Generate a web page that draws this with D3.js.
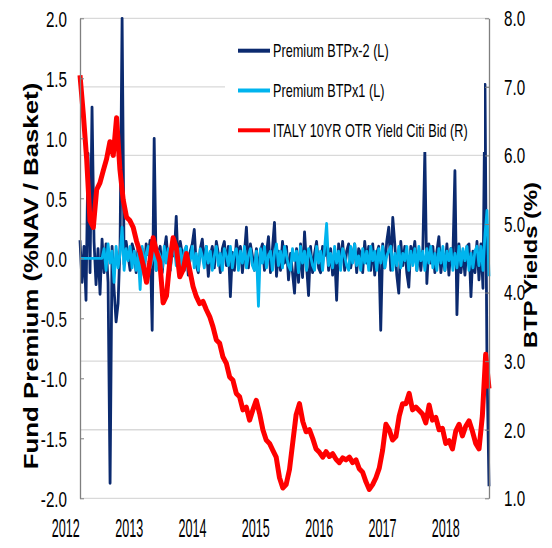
<!DOCTYPE html>
<html><head><meta charset="utf-8">
<script src="https://cdn.jsdelivr.net/npm/d3@7"></script>
<style>body{margin:0;background:#fff}svg{display:block}</style>
</head><body>
<svg id="chart" width="552" height="548"></svg>
<script>
// ---------- data ----------
const yearTicks = [2012, 2013, 2014, 2015, 2016, 2017, 2018];
const leftTicks = [-2.0, -1.5, -1.0, -0.5, 0.0, 0.5, 1.0, 1.5, 2.0];
const rightTicks = [1.0, 2.0, 3.0, 4.0, 5.0, 6.0, 7.0, 8.0];
const seriesNames = ["Premium BTPx-2 (L)", "Premium BTPx1 (L)", "ITALY 10YR OTR Yield Citi Bid (R)"];
const timeSpan = [2012.232, 2018.69];   // first / last observation (decimal years)

// Premium BTPx-2 (%NAV / Basket), evenly spaced observations
const premiumBTPx2 = [
 0.15,-0.2,0.1,-0.35,0.875,-0.12,1.26,0.14,-0.22,0.08,
 -0.3,0.16,-0.12,0.12,-0.2,-1.875,0.1,-0.26,-0.53,-0.375,
 0.12,2.0,-0.05,0.14,0.02,-0.1,0.12,0.06,-0.12,0.1,
 -0.04,0.08,-0.14,0.12,0.03,0.15,-0.6,1.0,-0.1,0.04,
 0.1,-0.12,0.06,0.18,-0.04,-0.1,0.12,0.02,0.35,-0.08,
 0.14,0.04,-0.1,0.1,-0.14,0.06,0.12,0.24,-0.06,-0.12,
 0.08,0.16,-0.04,0.1,-0.15,0.02,0.1,-0.08,0.14,0.04,
 -0.12,0.08,0.14,-0.06,0.1,-0.32,0.05,-0.1,0.15,0.02,
 0.1,-0.12,0.04,0.26,-0.08,0.12,0.02,-0.1,0.08,-0.14,
 0.06,0.12,-0.1,0.04,0.18,-0.12,0.08,0.3,-0.15,0.06,
 -0.1,0.14,-0.04,0.1,-0.18,0.04,-0.12,-0.29,0.08,-0.2,
 0.12,-0.16,0.22,-0.06,-0.31,0.1,-0.12,0.04,0.14,-0.08,
 -0.12,0.1,0.02,0.14,-0.1,0.08,-0.14,0.04,-0.35,0.12,
 -0.04,0.14,-0.1,0.06,0.12,-0.08,0.02,0.12,-0.12,0.08,
 0.04,-0.12,0.14,-0.04,0.1,-0.1,0.12,-0.14,0.04,0.1,
 -0.6,0.12,-0.08,0.14,0.26,-0.1,0.34,0.12,-0.14,-0.29,
 0.14,-0.06,0.1,-0.12,-0.24,0.1,0.02,0.14,-0.1,0.06,
 -0.1,0.08,0.89,-0.21,0.12,-0.04,0.1,-0.12,0.06,0.18,
 -0.12,0.04,-0.1,0.12,-0.14,0.08,0.02,0.73,-0.47,0.12,
 -0.12,0.06,-0.14,0.1,0.12,-0.32,0.06,-0.12,0.14,-0.18,
 0.12,-0.25,1.45,-0.9,-1.9
];

// Premium BTPx1 (%NAV / Basket), same observation dates
const premiumBTPx1 = [
 0,0,0,0,0,0,0,0,0,0,
 0,0,0.08,-0.1,0.12,-0.04,0.06,-0.2,0.1,-0.08,
 0.04,0.26,-0.1,0.08,-0.02,0.1,-0.08,0.06,-0.1,0.04,
 -0.26,0.1,-0.06,0.04,0.1,-0.08,-0.02,0.08,-0.1,0.06,
 0.02,-0.08,0.1,-0.04,0.08,-0.1,0.04,0.1,-0.06,0.02,
 0.08,-0.08,0.06,0.1,-0.06,-0.02,0.1,-0.08,0.04,-0.1,
 0.08,0.02,-0.08,0.1,-0.04,0.06,-0.1,0.02,0.1,-0.06,
 0.04,-0.1,0.08,0.02,-0.06,0.1,-0.08,0.04,0.08,-0.1,
 0.06,-0.04,0.1,-0.08,0.02,0.08,-0.06,-0.1,0.06,-0.4,
 0.08,-0.04,0.1,-0.08,0.02,0.06,-0.1,0.04,0.12,-0.06,
 0.06,-0.08,0.1,0.02,-0.06,-0.1,0.08,-0.02,0.06,-0.12,
 0.1,-0.04,0.06,-0.1,0.08,0.02,-0.06,-0.1,0.1,-0.04,
 0.06,-0.1,0.08,0.29,-0.06,0.04,-0.08,0.1,-0.04,0.06,
 -0.1,0.08,0.02,-0.06,-0.1,0.1,-0.04,0.12,-0.06,0.02,
 -0.1,0.08,-0.04,0.06,-0.1,0.1,-0.02,0.06,-0.1,0.08,
 -0.04,0.1,-0.08,0.02,0.06,0.1,-0.1,0.04,-0.06,0.1,
 -0.08,0.04,-0.02,0.1,-0.1,0.06,-0.06,0.08,-0.1,0.1,
 -0.02,0.06,-0.1,0.08,-0.04,0.1,-0.08,0.04,-0.1,0.08,
 -0.04,0.1,-0.1,0.06,-0.02,0.08,-0.1,0.04,-0.08,0.1,
 -0.06,0.08,-0.02,0.1,-0.1,0.04,-0.08,0.06,0.1,-0.06,
 0.1,-0.1,0.2,0.4,-0.15
];

// ITALY 10YR OTR Yield Citi Bid (%), evenly spaced observations over the same span
const italy10y = [
 7.17,6.6,5.95,5.05,4.95,5.5,5.6,5.78,5.95,6.2,
 6.0,6.55,5.8,5.35,5.1,5.05,4.95,4.75,4.6,4.4,
 4.15,4.45,4.8,4.6,4.45,3.85,3.95,4.45,4.8,4.65,
 4.23,4.33,4.57,4.33,4.09,3.94,3.84,3.87,3.75,3.65,
 3.5,3.31,3.26,3.06,2.97,2.77,2.72,2.53,2.48,2.29,
 2.33,2.14,2.29,2.43,2.24,2.0,1.85,1.8,1.7,1.6,
 1.3,1.15,1.2,1.42,1.82,2.22,2.38,2.12,1.97,2.0,
 1.87,1.72,1.67,1.6,1.68,1.61,1.65,1.57,1.52,1.59,
 1.56,1.6,1.52,1.56,1.43,1.38,1.24,1.13,1.2,1.3,
 1.44,1.7,2.08,2.0,1.85,1.9,2.2,2.38,2.38,2.53,
 2.29,2.33,2.28,2.23,2.1,2.36,2.14,2.18,2.0,2.02,
 1.8,1.84,1.72,1.98,2.08,1.91,2.05,2.13,1.98,1.8,
 1.72,2.2,3.1,2.6
];

// ---------- chart ----------
const svg = d3.select("#chart");
svg.append("rect").attr("width", 552).attr("height", 548).attr("fill", "#fff");

const plot = {left: 80, right: 489, top: 18.3, bottom: 498.3};
const x = d3.scaleLinear().domain(timeSpan).range([plot.left, plot.right]);
const yL = d3.scaleLinear().domain([-2, 2]).range([plot.bottom, plot.top]);
const yR = d3.scaleLinear().domain([1, 8]).range([plot.bottom, plot.top]);

const SANS = "'Liberation Sans',Arial,Helvetica,sans-serif";

// gridlines (secondary axis)
svg.append("g").selectAll("line").data(rightTicks).join("line")
  .attr("x1", plot.left).attr("x2", plot.right)
  .attr("y1", d => yR(d)).attr("y2", d => yR(d))
  .attr("stroke", "#d9d9d9").attr("stroke-width", 1.3);

// series
function datesFor(arr) {
  const step = (timeSpan[1] - timeSpan[0]) / (arr.length - 1);
  return arr.map((v, i) => [timeSpan[0] + i * step, v]);
}
const lineL = d3.line().x(d => x(d[0])).y(d => yL(d[1]));
const lineR = d3.line().x(d => x(d[0])).y(d => yR(d[1]));
const colors = ["#0b2a6f", "#00b4ee", "#ff0000"];

svg.append("path").datum(datesFor(premiumBTPx2)).attr("d", lineL)
  .attr("fill", "none").attr("stroke", colors[0]).attr("stroke-width", 2.8).attr("stroke-linejoin", "round");
svg.append("path").datum(datesFor(premiumBTPx1)).attr("d", lineL)
  .attr("fill", "none").attr("stroke", colors[1]).attr("stroke-width", 2.8).attr("stroke-linejoin", "round");
svg.append("path").datum(datesFor(italy10y)).attr("d", lineR)
  .attr("fill", "none").attr("stroke", colors[2]).attr("stroke-width", 5).attr("stroke-linejoin", "round");

// legend box
const legend = svg.append("g");
legend.append("rect").attr("x", 225).attr("y", 26).attr("width", 259).attr("height", 126).attr("fill", "#fff");
const legRow = d3.scalePoint().domain(seriesNames).range([50.7, 130.3]);
seriesNames.forEach((name, i) => {
  const yy = legRow(name);
  legend.append("line").attr("x1", 238).attr("x2", 270).attr("y1", yy).attr("y2", yy)
    .attr("stroke", colors[i]).attr("stroke-width", 4);
  legend.append("text").attr("transform", `translate(273,${yy}) scale(0.82,1.2)`)
    .attr("dy", "0.36em").attr("font-family", SANS).attr("font-size", 15.5).attr("fill", "#000")
    .text(name);
});

// left axis
const axL = svg.append("g").attr("transform", `translate(${plot.left},0)`)
  .call(d3.axisLeft(yL).tickValues(leftTicks).tickFormat(d => d.toFixed(1)).tickSizeInner(-4).tickSizeOuter(0).tickPadding(13));
axL.select(".domain").attr("stroke", "#7f7f7f").attr("stroke-width", 1.3);
axL.selectAll(".tick line").attr("stroke", "#7f7f7f");
axL.selectAll(".tick text").attr("x", 0).attr("transform", "translate(-13,1) scale(0.8,1.2)")
  .attr("font-family", SANS).attr("font-size", 19).attr("fill", "#000");

// right axis
const axR = svg.append("g").attr("transform", `translate(${plot.right},0)`)
  .call(d3.axisRight(yR).tickValues(rightTicks).tickFormat(d => d.toFixed(1)).tickSizeInner(-4).tickSizeOuter(0).tickPadding(15));
axR.select(".domain").attr("stroke", "#7f7f7f").attr("stroke-width", 1.3);
axR.selectAll(".tick line").attr("stroke", "#7f7f7f");
axR.selectAll(".tick text").attr("x", 0).attr("transform", "translate(15,0) scale(0.8,1.2)")
  .attr("font-family", SANS).attr("font-size", 19).attr("fill", "#000");

// bottom axis (year labels)
const axB = svg.append("g").attr("transform", `translate(0,${plot.bottom})`)
  .call(d3.axisBottom(x).tickValues(yearTicks).tickFormat(d3.format("d")).tickSize(0).tickPadding(0));
axB.select(".domain").remove();
axB.selectAll(".tick text").attr("y", 0).attr("dy", 0)
  .attr("transform", "translate(0,38.5) scale(0.74,1.55)")
  .attr("font-family", SANS).attr("font-size", 17).attr("fill", "#000");

// axis titles
svg.append("text").attr("transform", "translate(38,276) rotate(-90) scale(1.29,1)")
  .attr("text-anchor", "middle")
  .attr("font-family", SANS).attr("font-weight", "bold").attr("font-size", 20).attr("fill", "#000")
  .text("Fund Premium (%NAV / Basket)");
svg.append("text").attr("transform", "translate(537,265) rotate(-90) scale(1.25,1)")
  .attr("text-anchor", "middle")
  .attr("font-family", SANS).attr("font-weight", "bold").attr("font-size", 19).attr("fill", "#000")
  .text("BTP Yields (%)");
</script>
</body></html>
